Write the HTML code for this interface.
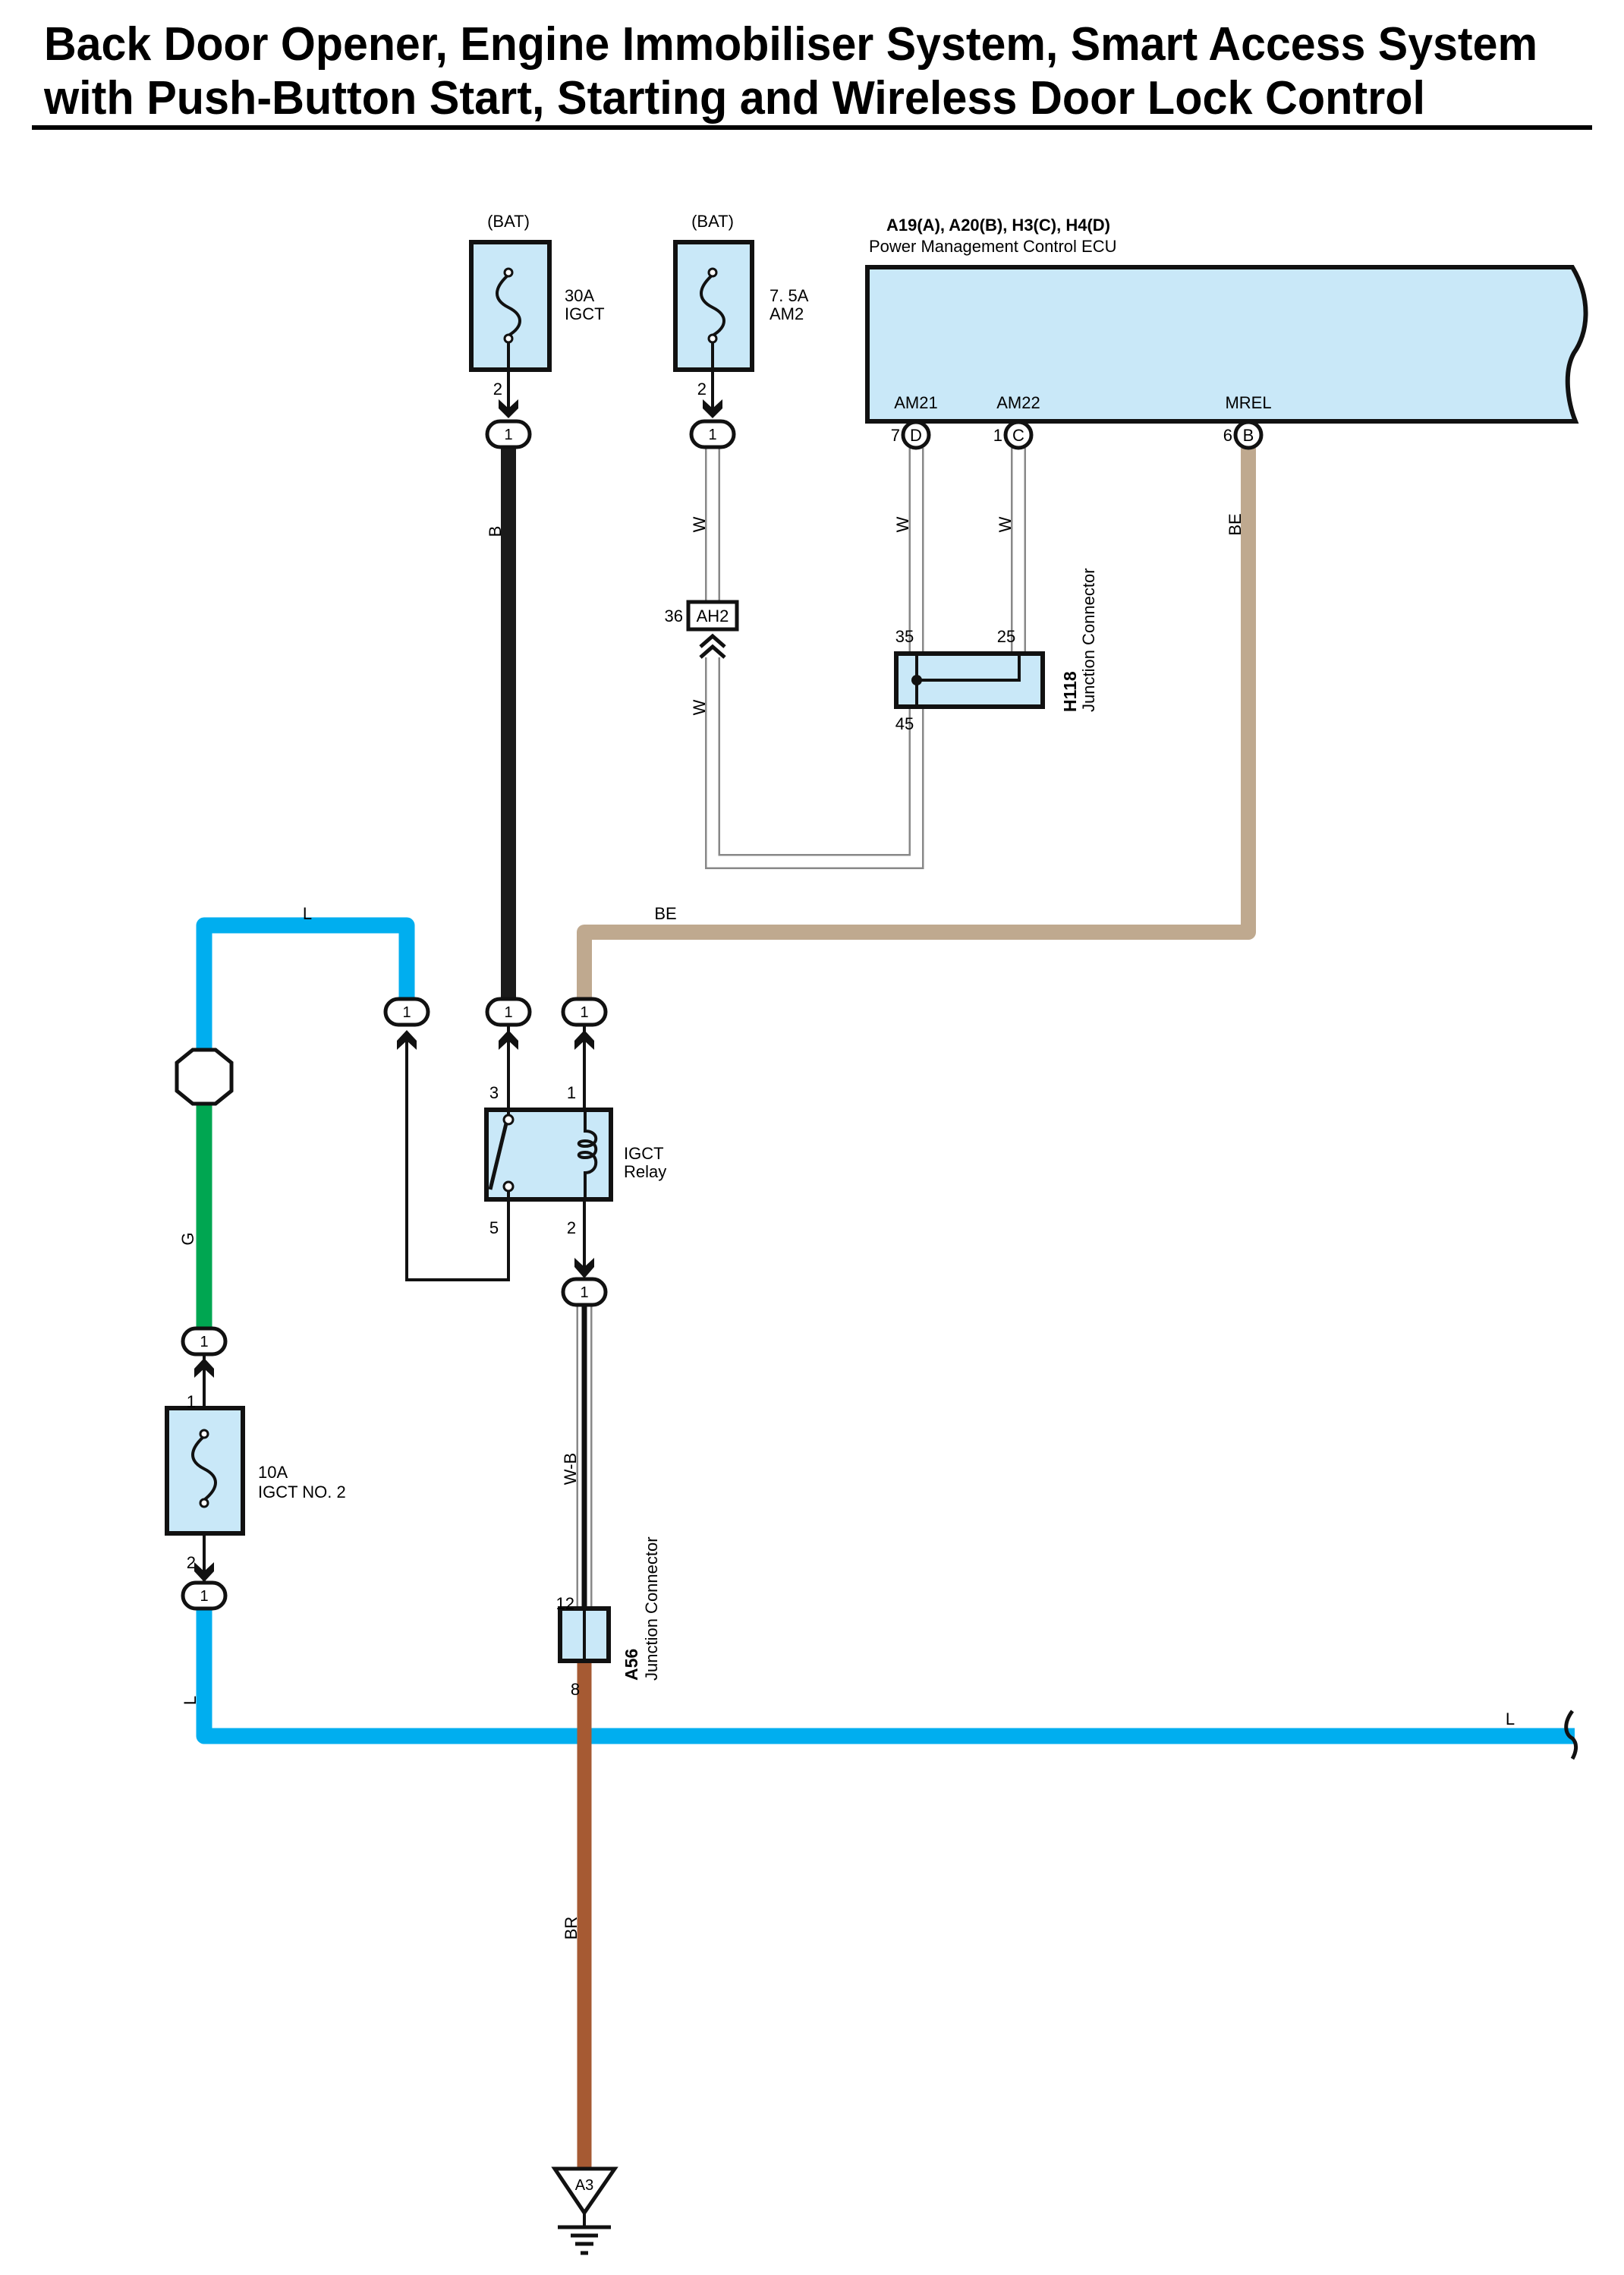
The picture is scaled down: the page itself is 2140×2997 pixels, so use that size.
<!DOCTYPE html>
<html><head><meta charset="utf-8"><style>
html,body{margin:0;padding:0;background:#fff}
svg{display:block}
text{font-family:"Liberation Sans",sans-serif;fill:#000}
</style></head><body>
<svg width="2140" height="2997" viewBox="0 0 2140 2997" xmlns="http://www.w3.org/2000/svg">
<!-- Title -->
<text x="58" y="79" font-size="62" font-weight="bold" textLength="1968" lengthAdjust="spacingAndGlyphs">Back Door Opener, Engine Immobiliser System, Smart Access System</text>
<text x="58" y="150" font-size="62" font-weight="bold" textLength="1820" lengthAdjust="spacingAndGlyphs">with Push-Button Start, Starting and Wireless Door Lock Control</text>
<rect x="42" y="165" width="2056" height="6" fill="#000"/>

<g font-size="22">
<!-- Fuse IGCT 30A -->
<text x="670" y="299" text-anchor="middle">(BAT)</text>
<rect x="621" y="319" width="103" height="168" fill="#c9e8f8" stroke="#111" stroke-width="6"/>
<path d="M670,362 C650,380 650,395 670,405 C690,415 690,430 670,442" fill="none" stroke="#111" stroke-width="4"/>
<circle cx="670" cy="359" r="5" fill="#fff" stroke="#111" stroke-width="3"/>
<circle cx="670" cy="446" r="5" fill="#fff" stroke="#111" stroke-width="3"/>
<line x1="670" y1="451" x2="670" y2="540" stroke="#111" stroke-width="4"/>
<text x="744" y="397">30A</text><text x="744" y="421">IGCT</text>
<text x="662" y="520" text-anchor="end">2</text>

<!-- Fuse AM2 7.5A -->
<text x="939" y="299" text-anchor="middle">(BAT)</text>
<rect x="890" y="319" width="101" height="168" fill="#c9e8f8" stroke="#111" stroke-width="6"/>
<path d="M939,362 C919,380 919,395 939,405 C959,415 959,430 939,442" fill="none" stroke="#111" stroke-width="4"/>
<circle cx="939" cy="359" r="5" fill="#fff" stroke="#111" stroke-width="3"/>
<circle cx="939" cy="446" r="5" fill="#fff" stroke="#111" stroke-width="3"/>
<line x1="939" y1="451" x2="939" y2="540" stroke="#111" stroke-width="4"/>
<text x="1014" y="397">7. 5A</text><text x="1014" y="421">AM2</text>
<text x="931" y="520" text-anchor="end">2</text>

<!-- ECU -->
<text x="1168" y="304" font-weight="bold" font-size="22">A19(A), A20(B), H3(C), H4(D)</text>
<text x="1145" y="332">Power Management Control ECU</text>
<path d="M1143,352 H2072 C2098,395 2092,440 2074,465 C2060,490 2066,530 2076,555 H1143 Z" fill="#c9e8f8" stroke="#111" stroke-width="6"/>
<text x="1207" y="538" text-anchor="middle">AM21</text>
<text x="1342" y="538" text-anchor="middle">AM22</text>
<text x="1645" y="538" text-anchor="middle">MREL</text>

<!-- Wires top -->
<line x1="670" y1="585" x2="670" y2="1320" stroke="#1a1a1a" stroke-width="20"/>
<g fill="none" stroke-linejoin="miter">
<path d="M939,590 V792" stroke="#888" stroke-width="20"/><path d="M939,590 V792" stroke="#fff" stroke-width="15"/>
<path d="M939,866 V1135 H1207.5 V930" stroke="#888" stroke-width="20"/><path d="M939,866 V1135 H1207.5 V930" stroke="#fff" stroke-width="15"/>
<path d="M1207.5,590 V862" stroke="#888" stroke-width="20"/><path d="M1207.5,590 V862" stroke="#fff" stroke-width="15"/>
<path d="M1342,590 V862" stroke="#888" stroke-width="20"/><path d="M1342,590 V862" stroke="#fff" stroke-width="15"/>
</g>
<path d="M1645,590 V1228 H770 V1320" fill="none" stroke="#bfa98f" stroke-width="20" stroke-linejoin="round"/>
<path d="M536,1320 V1219 H269 V1390" fill="none" stroke="#00aeef" stroke-width="21" stroke-linejoin="round"/>
<line x1="269" y1="1450" x2="269" y2="1755" stroke="#00a651" stroke-width="21"/>
<path d="M269,2110 V2287 H2075" fill="none" stroke="#00aeef" stroke-width="21" stroke-linejoin="round"/>
<path d="M2072,2254 C2060,2270 2062,2285 2072,2290 C2080,2298 2076,2310 2072,2317" fill="none" stroke="#111" stroke-width="5"/>
<line x1="770" y1="2189" x2="770" y2="2856" stroke="#a65a33" stroke-width="19"/>

<!-- Wire labels -->
<text transform="translate(660,700) rotate(-90)" text-anchor="middle">B</text>
<text transform="translate(929,691) rotate(-90)" text-anchor="middle">W</text>
<text transform="translate(929,932) rotate(-90)" text-anchor="middle">W</text>
<text transform="translate(1197,691) rotate(-90)" text-anchor="middle">W</text>
<text transform="translate(1332,691) rotate(-90)" text-anchor="middle">W</text>
<text transform="translate(1635,691) rotate(-90)" text-anchor="middle">BE</text>
<text x="877" y="1211" text-anchor="middle">BE</text>
<text x="405" y="1211" text-anchor="middle">L</text>
<text transform="translate(255,1632) rotate(-90)" text-anchor="middle">G</text>
<text transform="translate(759,1935) rotate(-90)" text-anchor="middle">W-B</text>
<text transform="translate(760,2540) rotate(-90)" text-anchor="middle">BR</text>
<text transform="translate(258,2240) rotate(-90)" text-anchor="middle">L</text>
<text x="1990" y="2272" text-anchor="middle">L</text>

<!-- ECU pins -->
<g stroke="#111" stroke-width="5" fill="#fff">
<circle cx="1207" cy="573" r="17"/><circle cx="1342" cy="573" r="17"/><circle cx="1645" cy="573" r="17"/>
</g>
<text x="1207" y="581" text-anchor="middle">D</text>
<text x="1342" y="581" text-anchor="middle">C</text>
<text x="1645" y="581" text-anchor="middle">B</text>
<text x="1186" y="581" text-anchor="end">7</text>
<text x="1321" y="581" text-anchor="end">1</text>
<text x="1624" y="581" text-anchor="end">6</text>

<!-- AH2 -->
<rect x="907" y="793" width="64" height="36" fill="#fff" stroke="#111" stroke-width="5"/>
<text x="939" y="819" text-anchor="middle">AH2</text>
<text x="900" y="819" text-anchor="end">36</text>
<polyline points="923,852 939,838 955,852" fill="none" stroke="#111" stroke-width="5"/>
<polyline points="923,866 939,852 955,866" fill="none" stroke="#111" stroke-width="5"/>

<!-- H118 -->
<rect x="1181" y="861" width="193" height="70" fill="#c9e8f8" stroke="#111" stroke-width="6"/>
<line x1="1208" y1="861" x2="1208" y2="931" stroke="#111" stroke-width="4"/>
<polyline points="1208,896 1343,896 1343,861" fill="none" stroke="#111" stroke-width="4"/>
<circle cx="1208" cy="896" r="7" fill="#111"/>
<text x="1192" y="846" text-anchor="middle">35</text>
<text x="1326" y="846" text-anchor="middle">25</text>
<text x="1192" y="961" text-anchor="middle">45</text>
<text transform="translate(1418,938) rotate(-90)" font-weight="bold" font-size="23">H118</text>
<text transform="translate(1442,938) rotate(-90)">Junction Connector</text>

<!-- Octagon -->
<polygon points="254,1383 284,1383 305,1400 305,1437 284,1454 254,1454 233,1437 233,1400" fill="#fff" stroke="#111" stroke-width="5"/>

<!-- Relay -->
<line x1="670" y1="1350" x2="670" y2="1473" stroke="#111" stroke-width="4"/>
<line x1="770" y1="1350" x2="770" y2="1680" stroke="#111" stroke-width="4"/>
<polyline points="536,1370 536,1686 670,1686 670,1563" fill="none" stroke="#111" stroke-width="4"/>
<rect x="641" y="1462" width="164" height="118" fill="#c9e8f8" stroke="#111" stroke-width="6"/>
<line x1="670" y1="1462" x2="670" y2="1473" stroke="#111" stroke-width="4"/>
<line x1="670" y1="1563" x2="670" y2="1580" stroke="#111" stroke-width="4"/>
<line x1="667" y1="1480" x2="646" y2="1567" stroke="#111" stroke-width="5"/>
<circle cx="670" cy="1475" r="6" fill="#fff" stroke="#111" stroke-width="3"/>
<circle cx="670" cy="1563" r="6" fill="#fff" stroke="#111" stroke-width="3"/>
<path d="M771,1462 V1490 C790,1490 790,1510 771,1510 C760,1510 760,1503 771,1503 C790,1503 790,1525 771,1525 C760,1525 760,1518 771,1518 C790,1518 790,1545 771,1545 V1580" fill="none" stroke="#111" stroke-width="4"/>
<text x="651" y="1447" text-anchor="middle">3</text>
<text x="753" y="1447" text-anchor="middle">1</text>
<text x="651" y="1625" text-anchor="middle">5</text>
<text x="753" y="1625" text-anchor="middle">2</text>
<text x="822" y="1527">IGCT</text><text x="822" y="1551">Relay</text>

<!-- W-B wire -->
<line x1="770" y1="1718" x2="770" y2="2119" stroke="#888" stroke-width="21"/>
<line x1="770" y1="1718" x2="770" y2="2119" stroke="#fff" stroke-width="16"/>
<line x1="770" y1="1718" x2="770" y2="2119" stroke="#111" stroke-width="7"/>

<!-- Fuse IGCT NO.2 -->
<line x1="269" y1="1780" x2="269" y2="2085" stroke="#111" stroke-width="4"/>
<rect x="220" y="1855" width="100" height="165" fill="#c9e8f8" stroke="#111" stroke-width="6"/>
<path d="M269,1892 C249,1910 249,1925 269,1935 C289,1945 289,1960 269,1976" fill="none" stroke="#111" stroke-width="4"/>
<circle cx="269" cy="1889" r="5" fill="#fff" stroke="#111" stroke-width="3"/>
<circle cx="269" cy="1980" r="5" fill="#fff" stroke="#111" stroke-width="3"/>
<text x="340" y="1947">10A</text><text x="340" y="1973">IGCT NO. 2</text>
<text x="258" y="1854" text-anchor="end">1</text>
<text x="258" y="2066" text-anchor="end">2</text>

<!-- A56 -->
<rect x="738" y="2119" width="64" height="69" fill="#c9e8f8" stroke="#111" stroke-width="6"/>
<line x1="770" y1="2119" x2="770" y2="2188" stroke="#111" stroke-width="4"/>
<text x="757" y="2120" text-anchor="end">12</text>
<text x="758" y="2233" text-anchor="middle">8</text>
<text transform="translate(840,2214) rotate(-90)" font-weight="bold" font-size="23">A56</text>
<text transform="translate(866,2214) rotate(-90)">Junction Connector</text>

<!-- Ground -->
<polygon points="731,2857 810,2857 770,2915" fill="#fff" stroke="#111" stroke-width="5"/>
<text x="770" y="2885" text-anchor="middle" font-size="20">A3</text>
<line x1="770" y1="2915" x2="770" y2="2934" stroke="#111" stroke-width="4"/>
<line x1="735" y1="2934" x2="805" y2="2934" stroke="#111" stroke-width="5"/>
<line x1="752" y1="2945" x2="788" y2="2945" stroke="#111" stroke-width="5"/>
<line x1="758" y1="2956" x2="782" y2="2956" stroke="#111" stroke-width="5"/>
<line x1="765" y1="2968" x2="775" y2="2968" stroke="#111" stroke-width="5"/>

<!-- Chevrons -->
<g fill="#111">
<polygon points="657,526 670,538 683,526 683,538 670,551 657,538"/>
<polygon points="926,526 939,538 952,526 952,538 939,551 926,538"/>
<polygon points="757,1657 770,1669 783,1657 783,1669 770,1684 757,1669"/>
<polygon points="256,2058 269,2070 282,2058 282,2070 269,2084 256,2070"/>
<polygon points="523,1383 536,1371 549,1383 549,1371 536,1357 523,1371"/>
<polygon points="657,1383 670,1371 683,1383 683,1371 670,1357 657,1371"/>
<polygon points="757,1383 770,1371 783,1383 783,1371 770,1357 757,1371"/>
<polygon points="256,1815 269,1803 282,1815 282,1803 269,1789 256,1803"/>
</g>

<!-- Oval connectors -->
<g stroke="#111" stroke-width="5" fill="#fff">
<rect x="642" y="555" width="56" height="34" rx="17"/>
<rect x="911" y="555" width="56" height="34" rx="17"/>
<rect x="508" y="1316" width="56" height="34" rx="17"/>
<rect x="642" y="1316" width="56" height="34" rx="17"/>
<rect x="742" y="1316" width="56" height="34" rx="17"/>
<rect x="742" y="1685" width="56" height="34" rx="17"/>
<rect x="241" y="1750" width="56" height="34" rx="17"/>
<rect x="241" y="2085" width="56" height="34" rx="17"/>
</g>
<g text-anchor="middle" font-size="20">
<text x="670" y="579">1</text><text x="939" y="579">1</text>
<text x="536" y="1340">1</text><text x="670" y="1340">1</text><text x="770" y="1340">1</text>
<text x="770" y="1709">1</text><text x="269" y="1774">1</text><text x="269" y="2109">1</text>
</g>
</g>
</svg>
</body></html>
